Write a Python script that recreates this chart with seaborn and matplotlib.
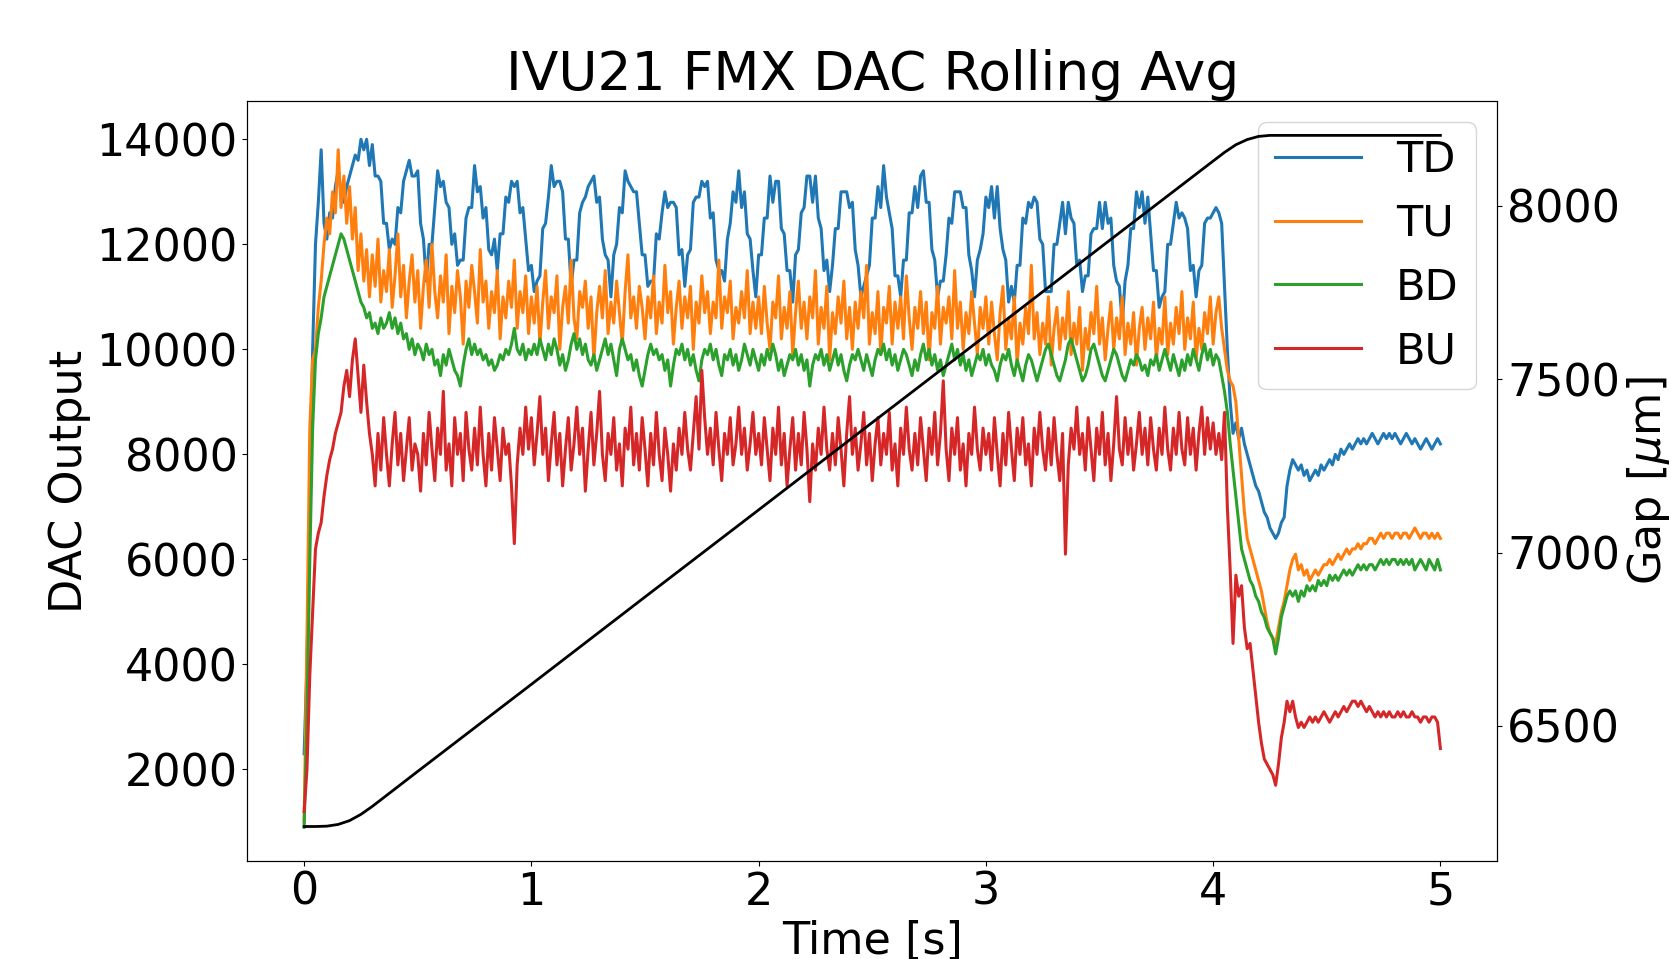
import numpy as np
import matplotlib
matplotlib.use("Agg")
import matplotlib.pyplot as plt
import seaborn as sns

# DAC outputs, in units of 100 counts,
# one sample every 12.5 ms from 0 to 5 s (401 samples)
time_s = np.linspace(0, 5, 401)

td = [
    23, 40, 70, 100, 120, 128, 138, 124, 121, 126, 125, 131, 134, 130, 128, 131, 133, 135, 137, 136,
    140, 138, 140, 135, 139, 133, 133, 132, 124, 124, 119, 121, 120, 127, 126, 132, 134, 136, 133, 133,
    134, 124, 121, 113, 120, 120, 127, 134, 131, 132, 128, 127, 120, 122, 116, 117, 117, 125, 127, 127,
    135, 130, 131, 125, 127, 119, 118, 121, 115, 122, 122, 129, 128, 132, 131, 132, 126, 127, 121, 115,
    116, 111, 113, 114, 123, 124, 129, 135, 131, 132, 132, 130, 121, 121, 112, 117, 117, 126, 128, 129,
    131, 132, 133, 128, 129, 121, 118, 117, 110, 118, 120, 127, 126, 134, 132, 131, 130, 130, 124, 118,
    118, 112, 113, 113, 122, 121, 126, 130, 127, 128, 128, 127, 118, 119, 112, 118, 119, 128, 129, 129,
    132, 131, 132, 125, 126, 117, 115, 115, 113, 121, 124, 130, 128, 134, 127, 130, 122, 121, 115, 110,
    118, 118, 125, 125, 133, 128, 132, 132, 123, 122, 115, 115, 109, 118, 119, 126, 127, 133, 133, 128,
    133, 125, 123, 115, 117, 111, 116, 123, 123, 130, 130, 130, 127, 128, 119, 116, 110, 112, 114, 116,
    125, 125, 131, 127, 135, 129, 126, 123, 114, 114, 110, 117, 117, 126, 126, 131, 127, 133, 134, 128,
    128, 119, 117, 110, 113, 113, 118, 125, 124, 130, 130, 130, 127, 127, 118, 115, 110, 117, 119, 122,
    129, 127, 131, 125, 131, 123, 119, 117, 109, 112, 109, 116, 116, 125, 124, 128, 127, 129, 128, 121,
    120, 111, 111, 111, 120, 120, 124, 128, 122, 128, 125, 124, 116, 117, 111, 114, 114, 122, 123, 123,
    128, 123, 128, 124, 125, 116, 113, 112, 105, 113, 116, 123, 123, 130, 127, 130, 124, 129, 122, 115,
    115, 108, 110, 111, 120, 120, 124, 128, 125, 126, 125, 123, 115, 116, 110, 115, 116, 124, 125, 125,
    126, 127, 126, 124, 112, 100, 90, 84, 86, 83, 85, 82, 80, 78, 76, 74, 73, 71, 69, 68,
    66, 65, 64, 65, 67, 68, 74, 77, 79, 78, 77, 78, 76, 77, 75, 76, 77, 76, 78, 77,
    78, 79, 78, 80, 79, 81, 80, 81, 82, 81, 82, 83, 82, 83, 82, 83, 84, 83, 82, 83,
    84, 83, 84, 83, 84, 83, 82, 83, 84, 83, 82, 83, 82, 81, 82, 83, 82, 81, 82, 83,
    82,
]

tu = [
    10, 45, 85, 98, 100, 108, 113, 120, 125, 122, 130, 126, 138, 127, 133, 124, 131, 121, 127, 115,
    122, 113, 119, 110, 118, 112, 121, 109, 115, 111, 119, 108, 114, 122, 110, 116, 106, 113, 118, 109,
    115, 104, 112, 117, 108, 120, 111, 106, 114, 109, 118, 103, 112, 107, 115, 110, 101, 113, 108, 116,
    111, 105, 119, 109, 113, 104, 111, 107, 115, 102, 110, 106, 113, 108, 117, 104, 111, 107, 114, 103,
    110, 105, 112, 101, 109, 115, 104, 110, 107, 114, 100, 108, 112, 105, 117, 106, 102, 111, 108, 113,
    104, 110, 98, 107, 112, 106, 115, 103, 109, 105, 113, 107, 101, 111, 118, 106, 110, 104, 112, 108,
    102, 110, 106, 114, 103, 109, 105, 116, 107, 111, 101, 108, 113, 104, 110, 106, 112, 100, 109, 105,
    114, 107, 111, 103, 109, 106, 117, 104, 110, 107, 113, 102, 108, 105, 111, 106, 115, 103, 109, 104,
    110, 103, 112, 105, 100, 109, 106, 114, 102, 108, 104, 111, 99, 107, 113, 104, 109, 102, 110, 106,
    115, 101, 108, 104, 112, 98, 107, 103, 110, 105, 113, 102, 108, 100, 109, 104, 111, 106, 116, 101,
    107, 103, 111, 99, 108, 105, 112, 101, 109, 104, 110, 102, 114, 106, 100, 108, 104, 111, 103, 109,
    98, 107, 104, 112, 101, 108, 105, 110, 102, 115, 104, 109, 100, 107, 103, 111, 105, 99, 108, 104,
    110, 101, 109, 103, 98, 107, 112, 100, 106, 102, 110, 97, 105, 101, 108, 103, 116, 102, 107, 99,
    105, 101, 110, 97, 104, 108, 100, 106, 102, 111, 99, 105, 101, 108, 96, 104, 100, 107, 103, 112,
    101, 106, 98, 104, 109, 100, 106, 102, 110, 99, 105, 101, 107, 97, 104, 108, 100, 106, 102, 109,
    98, 104, 101, 110, 99, 105, 101, 108, 103, 111, 100, 106, 102, 109, 98, 104, 100, 107, 103, 110,
    101, 107, 110, 104, 100, 96, 94, 93, 90, 83, 76, 69, 64, 62, 60, 58, 56, 54, 51, 48,
    46, 45, 44, 47, 50, 52, 55, 58, 60, 61, 58, 59, 57, 58, 56, 57, 58, 57, 58, 59,
    59, 60, 59, 60, 61, 60, 61, 62, 61, 62, 62, 63, 62, 63, 63, 64, 64, 63, 64, 65,
    64, 65, 65, 64, 65, 65, 64, 65, 65, 64, 65, 66, 65, 64, 65, 65, 64, 65, 64, 65,
    64,
]

bd = [
    9, 30, 60, 85, 98, 103, 106, 110, 112, 114, 116, 118, 120, 122, 121, 119, 117, 115, 113, 111,
    109, 108, 106, 107, 104, 105, 103, 106, 104, 105, 107, 104, 106, 103, 105, 102, 103, 100, 102, 99,
    101, 100, 98, 101, 99, 100, 97, 98, 95, 99, 97, 100, 98, 96, 95, 93, 97, 100, 102, 99,
    101, 99, 100, 98, 99, 97, 98, 96, 97, 99, 98, 100, 99, 101, 104, 100, 99, 101, 98, 100,
    99, 101, 99, 102, 100, 98, 101, 99, 102, 100, 97, 99, 96, 98, 101, 103, 100, 102, 99, 101,
    98, 97, 99, 96, 98, 100, 102, 99, 101, 98, 95, 100, 102, 100, 98, 99, 96, 98, 95, 93,
    96, 99, 101, 99, 100, 98, 99, 96, 98, 93, 97, 100, 99, 101, 98, 100, 97, 99, 96, 94,
    98, 100, 99, 101, 98, 100, 97, 95, 99, 98, 100, 97, 99, 96, 98, 101, 99, 97, 100, 98,
    96, 99, 97, 100, 98, 101, 99, 96, 98, 95, 97, 99, 98, 100, 97, 99, 96, 98, 93, 97,
    99, 98, 100, 97, 99, 96, 98, 100, 97, 99, 96, 94, 97, 99, 98, 100, 98, 96, 99, 97,
    95, 98, 100, 99, 101, 98, 100, 97, 99, 96, 98, 100, 99, 97, 95, 98, 96, 99, 101, 98,
    100, 97, 99, 96, 98, 95, 97, 99, 101, 98, 100, 97, 99, 96, 98, 95, 97, 99, 98, 100,
    97, 99, 97, 96, 94, 97, 99, 98, 100, 97, 95, 98, 96, 94, 97, 99, 98, 96, 94, 96,
    98, 100, 101, 99, 97, 95, 94, 96, 98, 101, 102, 100, 98, 96, 94, 95, 97, 100, 101, 99,
    97, 95, 94, 96, 98, 100, 99, 97, 95, 94, 96, 98, 97, 99, 98, 96, 97, 95, 98, 97,
    99, 96, 98, 100, 98, 96, 99, 97, 95, 98, 96, 99, 97, 100, 98, 96, 99, 101, 98, 100,
    97, 99, 98, 95, 92, 88, 82, 77, 72, 67, 62, 60, 58, 56, 55, 53, 52, 50, 49, 47,
    46, 45, 42, 45, 49, 51, 53, 54, 53, 54, 52, 54, 53, 55, 54, 55, 54, 56, 55, 56,
    55, 57, 56, 57, 56, 57, 58, 57, 58, 57, 58, 59, 58, 59, 58, 59, 59, 58, 59, 60,
    59, 60, 59, 60, 60, 59, 60, 59, 60, 59, 60, 58, 59, 60, 59, 58, 60, 59, 58, 60,
    58,
]

bu = [
    12, 20, 38, 50, 62, 65, 67, 72, 76, 79, 81, 84, 86, 88, 93, 96, 91, 98, 102, 95,
    88, 97, 90, 84, 80, 74, 84, 77, 87, 80, 74, 82, 88, 78, 84, 75, 81, 87, 77, 82,
    80, 73, 84, 78, 88, 81, 75, 85, 80, 92, 77, 82, 74, 87, 80, 84, 75, 88, 81, 77,
    85, 78, 89, 80, 74, 84, 77, 87, 81, 75, 85, 80, 82, 74, 63, 78, 85, 80, 89, 81,
    87, 78, 84, 91, 80, 85, 75, 82, 88, 78, 84, 74, 81, 87, 77, 82, 89, 80, 85, 73,
    81, 88, 78, 84, 92, 80, 75, 84, 80, 87, 77, 82, 74, 85, 81, 89, 78, 84, 77, 87,
    81, 74, 84, 78, 88, 80, 75, 85, 80, 73, 82, 77, 85, 80, 88, 81, 77, 84, 91, 81,
    96, 87, 80, 85, 78, 88, 81, 75, 84, 80, 87, 78, 82, 89, 80, 85, 77, 82, 88, 80,
    84, 78, 87, 81, 75, 85, 80, 89, 78, 84, 74, 81, 87, 77, 84, 78, 88, 81, 71, 82,
    77, 85, 80, 89, 81, 77, 84, 78, 87, 81, 74, 84, 91, 80, 85, 77, 82, 88, 78, 84,
    75, 82, 87, 78, 84, 80, 88, 77, 82, 74, 85, 80, 89, 81, 77, 84, 78, 87, 81, 75,
    85, 80, 88, 78, 84, 94, 81, 75, 85, 80, 87, 77, 82, 74, 84, 80, 89, 81, 77, 85,
    80, 84, 77, 87, 80, 74, 84, 78, 88, 81, 75, 85, 80, 87, 78, 82, 74, 85, 80, 88,
    81, 77, 85, 78, 87, 80, 75, 84, 61, 78, 85, 81, 89, 80, 84, 77, 87, 81, 75, 85,
    80, 88, 78, 84, 75, 82, 91, 81, 78, 87, 80, 85, 77, 82, 88, 80, 85, 78, 87, 81,
    77, 85, 80, 89, 81, 77, 85, 80, 88, 81, 78, 87, 80, 85, 77, 84, 89, 80, 87, 81,
    86, 80, 84, 79, 88, 70, 58, 44, 57, 53, 55, 47, 43, 44, 39, 34, 29, 25, 22, 21,
    20, 19, 17, 21, 26, 29, 33, 31, 33, 30, 28, 29, 28, 29, 30, 29, 30, 29, 30, 31,
    30, 29, 30, 31, 30, 31, 32, 31, 32, 33, 33, 32, 33, 32, 31, 32, 31, 30, 31, 30,
    31, 30, 31, 30, 30, 31, 30, 31, 30, 30, 31, 30, 30, 29, 30, 30, 29, 30, 30, 29,
    24,
]

# gap (right axis), um
gap_time = [0, 0.05, 0.1, 0.15, 0.2, 0.25, 0.3, 0.5, 1.0, 1.5, 2.0, 2.5, 3.0, 3.5,
            4.0, 4.05, 4.1, 4.15, 4.2, 4.25, 4.5, 5.0]
gap_um = [6210, 6210, 6211, 6216, 6227, 6245, 6268, 6369, 6620, 6872, 7123, 7375,
          7626, 7878, 8129, 8154, 8176, 8191, 8200, 8203, 8203, 8203]

plt.rcParams['font.size'] = 32

fig = plt.figure(figsize=(16.71, 9.59), dpi=100)
ax = fig.add_axes([0.148, 0.102, 0.748, 0.793])

series = [('TD', td, 'tab:blue'), ('TU', tu, 'tab:orange'),
          ('BD', bd, 'tab:green'), ('BU', bu, 'tab:red')]
for name, vals, col in series:
    sns.lineplot(x=time_s, y=np.array(vals) * 100, ax=ax, label=name,
                 color=col, lw=2.2, estimator=None, sort=False)

ax.set_xlim(-0.25, 5.25)
ax.set_ylim(254, 14735)
ax.set_xticks([0, 1, 2, 3, 4, 5])
ax.set_xlabel('Time [s]')
ax.set_ylabel('DAC Output')
ax.set_title('IVU21 FMX DAC Rolling Avg', fontsize=38.5)
ax.legend(loc='upper right', fontsize=31)

# gap on a second y axis
ax2 = ax.twinx()
sns.lineplot(x=gap_time, y=gap_um, ax=ax2, color='k', lw=2, legend=False,
             estimator=None, sort=False)
ax2.set_ylim(6110, 8303)
ax2.set_ylabel(r'Gap [$\mu$m]')

fig.savefig('out.png', dpi=100)
